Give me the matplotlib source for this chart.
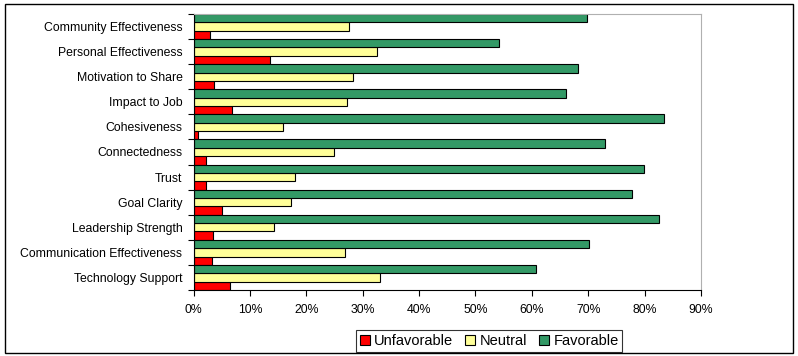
import numpy as np
import matplotlib
matplotlib.use("Agg")
import matplotlib.pyplot as plt
from matplotlib.patches import Rectangle
from matplotlib.ticker import FuncFormatter, MultipleLocator

plt.rcParams['font.family'] = ['Liberation Sans', 'DejaVu Sans']

# categories listed bottom to top
categories = ['Technology Support', 'Communication Effectiveness', 'Leadership Strength',
              'Goal Clarity', 'Trust', 'Connectedness', 'Cohesiveness', 'Impact to Job',
              'Motivation to Share', 'Personal Effectiveness', 'Community Effectiveness']
unfavorable = [6.4, 3.3, 3.4, 5.0, 2.3, 2.3, 0.8, 6.9, 3.7, 13.5, 3.0]
neutral = [33.1, 26.8, 14.3, 17.2, 18.0, 25.0, 15.9, 27.3, 28.2, 32.5, 27.6]
favorable = [60.8, 70.2, 82.5, 77.8, 79.9, 73.0, 83.4, 66.0, 68.2, 54.2, 69.7]

fig = plt.figure(figsize=(7.98, 3.56), dpi=100)
ax = fig.add_axes([0.2425, 0.1854, 0.636, 0.7753])

y = np.arange(len(categories))
h = 1 / 3
kw = dict(height=h, edgecolor='black', linewidth=0.8)
ax.barh(y - h, unfavorable, color='#FF0000', label='Unfavorable', **kw)
ax.barh(y, neutral, color='#FFFF99', label='Neutral', **kw)
ax.barh(y + h, favorable, color='#339966', label='Favorable', **kw)

ax.set_xlim(0, 90)
ax.set_ylim(-0.5, len(categories) - 0.5)
ax.xaxis.set_major_locator(MultipleLocator(10))
ax.xaxis.set_major_formatter(FuncFormatter(lambda v, p: f'{v:.0f}%'))

ax.set_yticks(y)
ax.set_yticklabels(categories)
ax.set_yticks(np.arange(len(categories) + 1) - 0.5, minor=True)
ax.tick_params(axis='y', which='major', length=0, pad=8, labelsize=8.8)
ax.tick_params(axis='y', which='minor', length=4, width=0.8)
ax.tick_params(axis='x', length=4, width=0.8, labelsize=8.8, pad=6)

for s in ['top', 'right']:
    ax.spines[s].set_color('#b0b0b0')
for s in ['left', 'bottom']:
    ax.spines[s].set_color('black')
    ax.spines[s].set_linewidth(0.8)

ax.legend(loc='center', bbox_to_anchor=(0.613, 0.042), bbox_transform=fig.transFigure,
          ncol=3, frameon=True, fancybox=False, edgecolor='black', fontsize=10.5,
          handlelength=0.7, handleheight=0.7, handletextpad=0.3, columnspacing=0.8,
          borderpad=0.25)
ax.get_legend().get_frame().set_linewidth(0.8)

fig.patches.append(Rectangle((0.006, 0.008), 0.988, 0.98, transform=fig.transFigure,
                             fill=False, edgecolor='black', linewidth=1.0))

fig.savefig('out.png', dpi=100)
